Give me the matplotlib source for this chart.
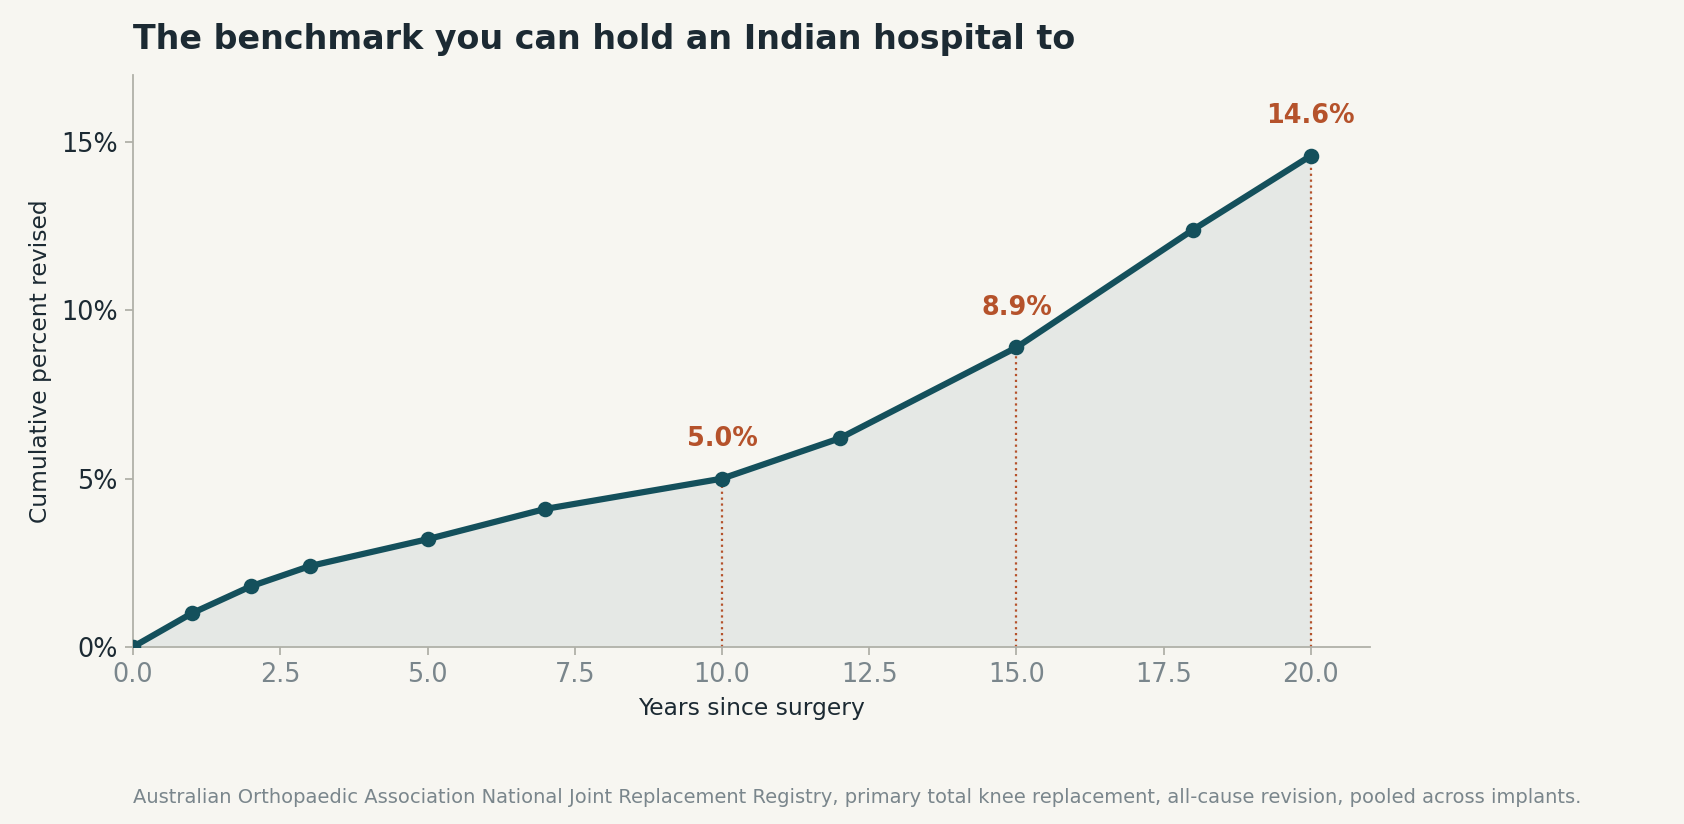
import matplotlib
matplotlib.use("Agg")
import matplotlib.pyplot as plt
from matplotlib.ticker import FuncFormatter

years = [0, 1, 2, 3, 5, 7, 10, 12, 15, 18, 20]
revised_pct = [0, 1.0, 1.8, 2.4, 3.2, 4.1, 5.0, 6.2, 8.9, 12.4, 14.6]
highlight_years = [10, 15, 20]
highlight_pct = [5.0, 8.9, 14.6]

bg = "#f7f6f1"
teal = "#14505c"
rust = "#b5522b"

fig = plt.figure(figsize=(10.53, 5.15), dpi=160, facecolor=bg)
ax = fig.add_axes([0.079, 0.215, 0.734, 0.694], facecolor=bg)

ax.fill_between(years, revised_pct, 0, color="#14505c", alpha=0.08, linewidth=0)
ax.plot(years, revised_pct, color=teal, lw=2.8, marker="o", ms=6, zorder=3)

for x, y in zip(highlight_years, highlight_pct):
    ax.vlines(x, 0, y, color=rust, lw=1, linestyles=":")
    ax.annotate(f"{y:.1f}%", (x, y), xytext=(0, 12), textcoords="offset points",
                ha="center", va="bottom", color=rust, fontsize=11.5, fontweight="bold")

ax.set_xlim(0, 21)
ax.set_ylim(0, 17)
ax.set_yticks([0, 5, 10, 15])
ax.yaxis.set_major_formatter(FuncFormatter(lambda v, p: f"{v:.0f}%"))
ax.set_xticks([0, 2.5, 5, 7.5, 10, 12.5, 15, 17.5, 20])
ax.tick_params(axis="x", colors="#b0b0a8", labelcolor="#7a868c", labelsize=11.5)
ax.tick_params(axis="y", colors="#b0b0a8", labelcolor="#1c2a33", labelsize=11.5)
for s in ["top", "right"]:
    ax.spines[s].set_visible(False)
for s in ["left", "bottom"]:
    ax.spines[s].set_color("#b0b0a8")

ax.set_xlabel("Years since surgery", fontsize=10.5, color="#1c2a33")
ax.set_ylabel("Cumulative percent revised", fontsize=10.5, color="#1c2a33")

fig.text(0.079, 0.94, "The benchmark you can hold an Indian hospital to",
         fontsize=15, fontweight="bold", color="#1c2a33")
fig.text(0.079, 0.025, "Australian Orthopaedic Association National Joint Replacement Registry, "
         "primary total knee replacement, all-cause revision, pooled across implants.",
         fontsize=8.8, color="#7a868c")

fig.savefig("out.png", dpi=160, facecolor=bg)
